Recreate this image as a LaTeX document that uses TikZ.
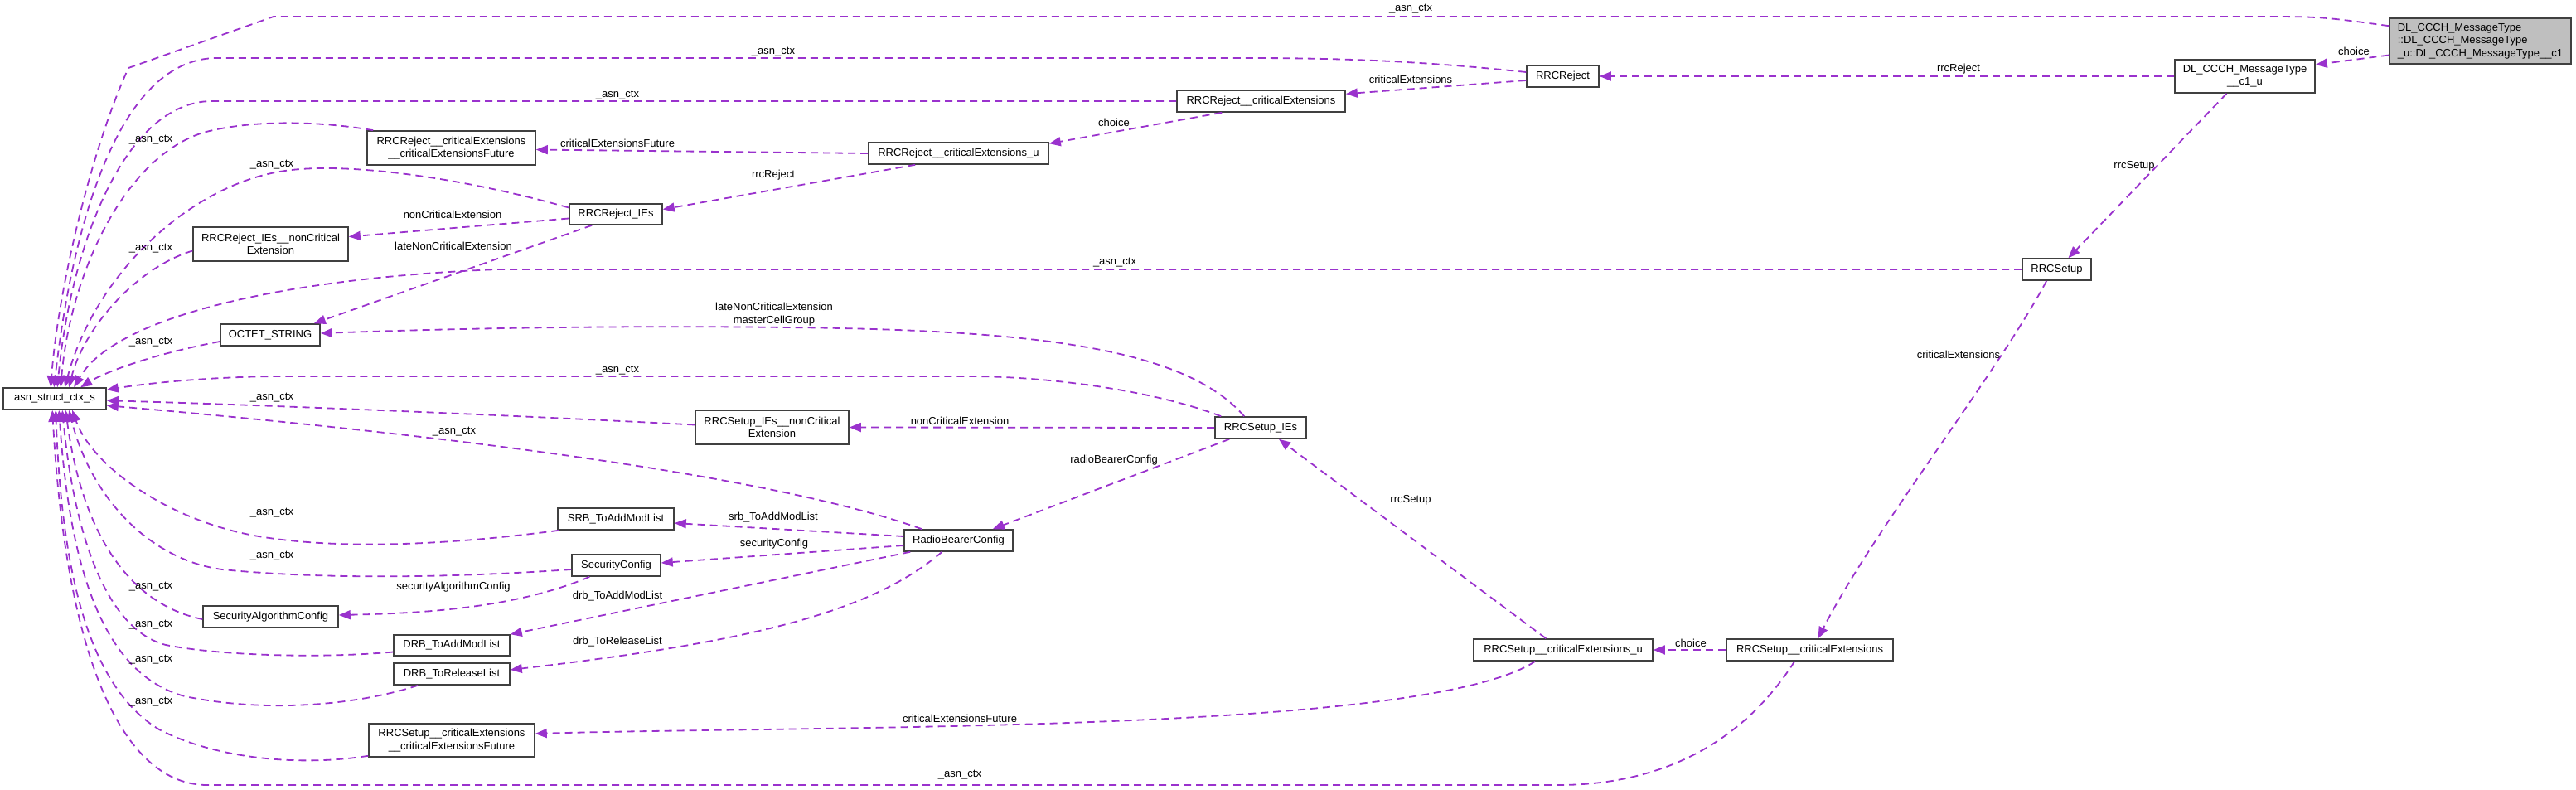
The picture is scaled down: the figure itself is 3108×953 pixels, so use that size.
\documentclass[tikz,border=0pt]{standalone}
\usepackage{fontspec}
\setmainfont{Liberation Sans}
\usetikzlibrary{arrows.meta,calc}
\definecolor{edgec}{RGB}{154,50,205}
\definecolor{boxc}{RGB}{64,64,64}
\definecolor{mainfill}{RGB}{191,191,191}
\begin{document}
\begin{tikzpicture}[x=1pt,y=-1pt,
  box/.style={draw=boxc, line width=1.6pt, fill=white, inner sep=0pt, align=center,
    font=\fontsize{13}{15.5}\selectfont},
  lbl/.style={inner sep=0pt, align=center, font=\fontsize{13}{15.5}\selectfont},
  rel/.style={draw=edgec, line width=1.8pt, dash pattern=on 9pt off 6pt,
    -{Triangle[length=14pt,width=11pt]}},
]
\useasboundingbox (0,0) rectangle (3108,953);

% nodes
\node[box, fill=mainfill, align=left, minimum width=219, minimum height=55] (main) at (2992.5,49.5)
  {DL\_CCCH\_MessageType\\::DL\_CCCH\_MessageType\\\_u::DL\_CCCH\_MessageType\_\_c1};
\node[box, minimum width=169, minimum height=40] (c1u) at (2708.5,92) {DL\_CCCH\_MessageType\\\_\_c1\_u};
\node[box, minimum width=87, minimum height=26] (rrcrej) at (1885.5,92) {RRCReject};
\node[box, minimum width=203, minimum height=26] (rrcrejce) at (1521.5,122) {RRCReject\_\_criticalExtensions};
\node[box, minimum width=217, minimum height=26] (rrcrejceu) at (1156.5,185) {RRCReject\_\_criticalExtensions\_u};
\node[box, minimum width=203, minimum height=41] (rrcrejcef) at (544.5,178.5) {RRCReject\_\_criticalExtensions\\\_\_criticalExtensionsFuture};
\node[box, minimum width=112, minimum height=25] (rejies) at (743,258.5) {RRCReject\_IEs};
\node[box, minimum width=187, minimum height=41] (rejnce) at (326.5,294.5) {RRCReject\_IEs\_\_nonCritical\\Extension};
\node[box, minimum width=120, minimum height=26] (octet) at (326,404) {OCTET\_STRING};
\node[box, minimum width=124, minimum height=26] (asn) at (66,481) {asn\_struct\_ctx\_s};
\node[box, minimum width=83, minimum height=26] (rrcsetup) at (2481.5,325) {RRCSetup};
\node[box, minimum width=110, minimum height=26] (setupies) at (1521,516) {RRCSetup\_IEs};
\node[box, minimum width=185, minimum height=41] (setupnce) at (931.5,515.5) {RRCSetup\_IEs\_\_nonCritical\\Extension};
\node[box, minimum width=131, minimum height=26] (rbc) at (1156.5,652) {RadioBearerConfig};
\node[box, minimum width=140, minimum height=26] (srb) at (743,626) {SRB\_ToAddModList};
\node[box, minimum width=107, minimum height=26] (sc) at (743.5,682) {SecurityConfig};
\node[box, minimum width=163, minimum height=26] (sac) at (326.5,744) {SecurityAlgorithmConfig};
\node[box, minimum width=140, minimum height=25] (drbadd) at (545,778.5) {DRB\_ToAddModList};
\node[box, minimum width=140, minimum height=26] (drbrel) at (545,813) {DRB\_ToReleaseList};
\node[box, minimum width=200, minimum height=40] (setupcef) at (545,893) {RRCSetup\_\_criticalExtensions\\\_\_criticalExtensionsFuture};
\node[box, minimum width=216, minimum height=26] (setupceu) at (1886,784) {RRCSetup\_\_criticalExtensions\_u};
\node[box, minimum width=201, minimum height=26] (setupce) at (2183.5,784) {RRCSetup\_\_criticalExtensions};

% edges into asn_struct_ctx_s (top)
\draw[rel] ($(main.north west)+(0,10)$) .. controls (2800,20) .. (2720,20) -- (330,20) -- (155,82)
  .. controls (110,180) and (70,350) .. ($(asn.north west)+(58,0)$);
\draw[rel] ($(rrcrej.west)+(0,-5)$) .. controls (1700,72) and (1600,70) .. (1500,70) -- (260,70)
  .. controls (150,72) and (90,250) .. ($(asn.north west)+(62,0)$);
\draw[rel] (rrcrejce.west) -- (260,122) .. controls (150,118) and (85,300) .. ($(asn.north west)+(66,0)$);
\draw[rel] ($(rrcrejcef.north west)+(8,0)$) .. controls (380,145) and (300,145) .. (245,160)
  .. controls (150,190) and (85,330) .. ($(asn.north west)+(70,0)$);
\draw[rel] ($(rejies.west)+(0,-8)$) .. controls (560,215) and (420,195) .. (344,206)
  .. controls (230,222) and (115,330) .. ($(asn.north west)+(75,0)$);
\draw[rel] ($(rejnce.west)+(0,8)$) .. controls (160,325) and (100,400) .. ($(asn.north west)+(80,0)$);
\draw[rel] (rrcsetup.west) -- (600,325) .. controls (350,335) and (140,380) .. ($(asn.north west)+(86,0)$);
\draw[rel] ($(octet.west)+(0,8)$) .. controls (180,428) and (125,450) .. ($(asn.north west)+(94,0)$);
% right side
\draw[rel] ($(setupies.north west)+(8,0)$) .. controls (1390,470) and (1260,454) .. (1170,454) -- (330,454)
  .. controls (250,455) and (180,462) .. ($(asn.north east)+(0,3)$);
\draw[rel] ($(setupnce.west)+(0,-3)$) .. controls (600,500) and (300,488) .. ($(asn.north east)+(0,16)$);
\draw[rel] ($(rbc.north west)+(22,0)$) .. controls (950,580) and (600,530) .. ($(asn.north east)+(0,22)$);
% bottom
\draw[rel] ($(srb.south west)+(2,0)$) .. controls (560,655) and (420,665) .. (312,647)
  .. controls (200,628) and (110,560) .. ($(asn.south west)+(84,0)$);
\draw[rel] ($(sc.west)+(0,5)$) .. controls (560,696) and (400,700) .. (268,687)
  .. controls (180,675) and (110,600) .. ($(asn.south west)+(80,0)$);
\draw[rel] ($(sac.west)+(0,3)$) .. controls (160,730) and (100,650) .. ($(asn.south west)+(76,0)$);
\draw[rel] ($(drbadd.west)+(0,8)$) .. controls (380,795) and (260,790) .. (200,778)
  .. controls (130,760) and (90,650) .. ($(asn.south west)+(72,0)$);
\draw[rel] ($(drbrel.south west)+(30,0)$) .. controls (440,848) and (330,862) .. (223,840)
  .. controls (130,815) and (85,700) .. ($(asn.south west)+(68,0)$);
\draw[rel] ($(setupcef.south west)+(0,-2)$) .. controls (360,925) and (260,915) .. (192,880)
  .. controls (110,830) and (75,700) .. ($(asn.south west)+(64,0)$);
\draw[rel] ($(setupce.south west)+(83,0)$) .. controls (2100,900) and (2000,947) .. (1880,947) -- (250,947)
  .. controls (150,947) and (80,800) .. ($(asn.south west)+(60,0)$);

% other edges
\draw[rel] ($(main.west)+(0,17)$) -- ($(c1u.east)+(0,-14)$);
\draw[rel] (c1u.west) -- (rrcrej.east);
\draw[rel] ($(c1u.south)+(-22,0)$) -- ($(rrcsetup.north)+(14,0)$);
\draw[rel] ($(rrcrej.west)+(0,5)$) -- ($(rrcrejce.north east)+(0,5)$);
\draw[rel] ($(rrcrejce.south west)+(55,0)$) -- ($(rrcrejceu.north east)+(0,2)$);
\draw[rel] (rrcrejceu.west) -- ($(rrcrejcef.east)+(0,2)$);
\draw[rel] ($(rrcrejceu.south west)+(57,0)$) -- ($(rejies.east)+(0,-6)$);
\draw[rel] ($(rejies.west)+(0,5)$) -- ($(rejnce.east)+(0,-9)$);
\draw[rel] ($(rejies.south west)+(28,0)$) -- ($(octet.north east)+(-8,0)$);
\draw[rel] ($(rrcsetup.south west)+(30,0)$) .. controls (2410,450) and (2260,640) .. ($(setupce.north)+(10,0)$);
\draw[rel] (setupce.west) -- (setupceu.east);
\draw[rel] ($(setupceu.north west)+(88,0)$) -- ($(setupies.south)+(22,0)$);
\draw[rel] ($(setupceu.south west)+(75,0)$) .. controls (1720,885) and (1000,875) .. ($(setupcef.east)+(0,-8)$);
\draw[rel] ($(setupies.north west)+(36,0)$) .. controls (1430,420) and (1250,398) .. (950,395)
  .. controls (700,392) and (500,398) .. ($(octet.east)+(0,-2)$);
\draw[rel] (setupies.west) -- (setupnce.east);
\draw[rel] ($(setupies.south west)+(18,0)$) -- ($(rbc.north east)+(-25,0)$);
\draw[rel] ($(rbc.west)+(0,-5)$) -- ($(srb.east)+(0,5)$);
\draw[rel] ($(rbc.west)+(0,6)$) -- ($(sc.east)+(0,-3)$);
\draw[rel] ($(rbc.south west)+(8,0)$) -- (drbadd.north east);
\draw[rel] ($(rbc.south)+(-20,0)$) .. controls (1050,740) and (900,775) .. ($(drbrel.east)+(0,-5)$);
\draw[rel] ($(sc.south west)+(22,0)$) .. controls (620,735) and (500,740) .. ($(sac.east)+(0,-2)$);

% labels
\node[lbl] (l1) at (1702,11) {\_asn\_ctx};
\node[lbl] (l2) at (933,63) {\_asn\_ctx};
\node[lbl] (l3) at (745,115) {\_asn\_ctx};
\node[lbl] (l4) at (182,169) {\_asn\_ctx};
\node[lbl] (l5) at (328,199) {\_asn\_ctx};
\node[lbl] (l6) at (182,300) {\_asn\_ctx};
\node[lbl] (l7) at (1345,317) {\_asn\_ctx};
\node[lbl] (l8) at (182,413) {\_asn\_ctx};
\node[lbl] (l9) at (745,447) {\_asn\_ctx};
\node[lbl] (l10) at (328,480) {\_asn\_ctx};
\node[lbl] (l11) at (548,521) {\_asn\_ctx};
\node[lbl] (l12) at (328,619) {\_asn\_ctx};
\node[lbl] (l13) at (328,671) {\_asn\_ctx};
\node[lbl] (l14) at (182,708) {\_asn\_ctx};
\node[lbl] (l15) at (182,754) {\_asn\_ctx};
\node[lbl] (l16) at (182,796) {\_asn\_ctx};
\node[lbl] (l17) at (182,847) {\_asn\_ctx};
\node[lbl] (l18) at (1158,935) {\_asn\_ctx};
\node[lbl] (l19) at (2840,62) {choice};
\node[lbl] (l20) at (2363,83) {rrcReject};
\node[lbl] (l21) at (2575,200) {rrcSetup};
\node[lbl] (l22) at (1702,96) {criticalExtensions};
\node[lbl] (l23) at (1344,148) {choice};
\node[lbl] (l24) at (745,173) {criticalExtensionsFuture};
\node[lbl] (l25) at (933,211) {rrcReject};
\node[lbl] (l26) at (546,259) {nonCriticalExtension};
\node[lbl] (l27) at (547,297) {lateNonCriticalExtension};
\node[lbl] (l28) at (2363,428) {criticalExtensions};
\node[lbl] (l29) at (2040,776) {choice};
\node[lbl] (l30) at (1702,603) {rrcSetup};
\node[lbl] (l31) at (1158,867) {criticalExtensionsFuture};
\node[lbl] (l32) at (934,379) {lateNonCriticalExtension\\masterCellGroup};
\node[lbl] (l33) at (1158,508) {nonCriticalExtension};
\node[lbl] (l34) at (1344,555) {radioBearerConfig};
\node[lbl] (l35) at (933,624) {srb\_ToAddModList};
\node[lbl] (l36) at (934,656) {securityConfig};
\node[lbl] (l37) at (745,719) {drb\_ToAddModList};
\node[lbl] (l38) at (745,774) {drb\_ToReleaseList};
\node[lbl] (l39) at (547,708) {securityAlgorithmConfig};
\end{tikzpicture}
\end{document}
